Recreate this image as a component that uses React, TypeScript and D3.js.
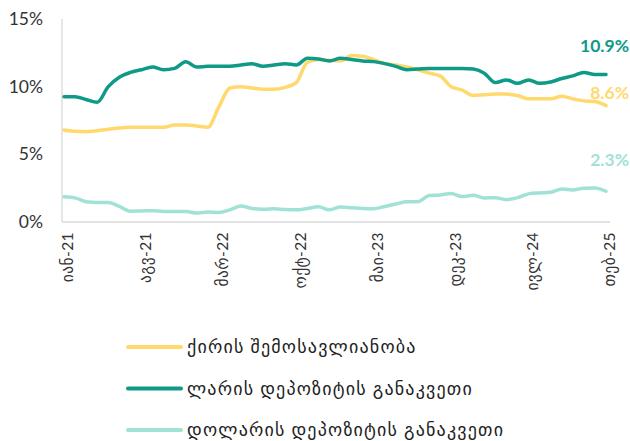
import { line, curveMonotoneX, scaleLinear, scalePoint } from "d3";

const months = [
  "2021-01", "2021-02", "2021-03", "2021-04", "2021-05", "2021-06", "2021-07", "2021-08", "2021-09", "2021-10", "2021-11", "2021-12",
  "2022-01", "2022-02", "2022-03", "2022-04", "2022-05", "2022-06", "2022-07", "2022-08", "2022-09", "2022-10", "2022-11", "2022-12",
  "2023-01", "2023-02", "2023-03", "2023-04", "2023-05", "2023-06", "2023-07", "2023-08", "2023-09", "2023-10", "2023-11", "2023-12",
  "2024-01", "2024-02", "2024-03", "2024-04", "2024-05", "2024-06", "2024-07", "2024-08", "2024-09", "2024-10", "2024-11", "2024-12",
  "2025-01", "2025-02",
];

const tickMonths = ["2021-01", "2021-08", "2022-03", "2022-10", "2023-05", "2023-12", "2024-07", "2025-02"];
const tickLabels = ["იან-21", "აგვ-21", "მარ-22", "ოქტ-22", "მაი-23", "დეკ-23", "ივლ-24", "თებ-25"];

const yTicks = [0, 5, 10, 15];

// ქირის შემოსავლიანობა
const rentYield = [
  6.8, 6.7, 6.67, 6.75, 6.85, 6.95, 7.0, 7.0, 7.0, 7.0, 7.17, 7.17,
  7.1, 7.0, 8.5, 9.9, 10.0, 9.9, 9.8, 9.8, 9.95, 10.3, 11.8, 12.0,
  11.95, 11.9, 12.3, 12.25, 12.0, 11.7, 11.6, 11.45, 11.25, 11.0, 10.8, 10.0,
  9.75, 9.35, 9.4, 9.45, 9.45, 9.35, 9.1, 9.1, 9.1, 9.3, 9.1, 8.95,
  8.9, 8.6,
];

// ლარის დეპოზიტის განაკვეთი
const gelDeposit = [
  9.26, 9.25, 9.05, 8.85, 10.0, 10.7, 11.05, 11.25, 11.45, 11.25, 11.35, 11.85,
  11.45, 11.5, 11.5, 11.5, 11.6, 11.7, 11.5, 11.6, 11.7, 11.6, 12.1, 12.05,
  11.9, 12.1, 12.0, 11.9, 11.85, 11.7, 11.5, 11.25, 11.3, 11.35, 11.35, 11.35,
  11.35, 11.3, 11.0, 10.3, 10.5, 10.25, 10.5, 10.25, 10.35, 10.6, 10.8, 11.05,
  10.9, 10.9,
];

// დოლარის დეპოზიტის განაკვეთი
const usdDeposit = [
  1.87, 1.78, 1.5, 1.45, 1.45, 1.15, 0.8, 0.82, 0.84, 0.78, 0.78, 0.78,
  0.66, 0.74, 0.7, 0.9, 1.18, 1.0, 0.95, 0.98, 0.92, 0.9, 1.0, 1.13,
  0.9, 1.1, 1.05, 1.0, 0.98, 1.15, 1.33, 1.5, 1.5, 1.95, 2.0, 2.1,
  1.88, 1.97, 1.78, 1.8, 1.65, 1.8, 2.08, 2.15, 2.2, 2.44, 2.37, 2.5,
  2.52, 2.27,
];

const seriesNames = ["ქირის შემოსავლიანობა", "ლარის დეპოზიტის განაკვეთი", "დოლარის დეპოზიტის განაკვეთი"];
const seriesValues = [rentYield, gelDeposit, usdDeposit];
const endLabels = ["8.6%", "10.9%", "2.3%"];
const colors = ["#FFD96E", "#0E9A86", "#A0E3D6"];

const W = 630;
const H = 441;
const font = "Lato, 'DejaVu Sans', sans-serif";

const App = () => {
  const x = scalePoint<string>().domain(months).range([64, 606]);
  const y = scaleLinear().domain([0, 15]).range([222, 19]);

  const path = line<number>()
    .x((_, i) => x(months[i]) as number)
    .y((d) => y(d))
    .curve(curveMonotoneX);

  const endY = [y(rentYield[49]) - 13, y(gelDeposit[49]) - 29, y(usdDeposit[49]) - 31];

  return (
    <svg
      width={W}
      height={H}
      style={{ position: "absolute", left: 0, top: 0, background: "#fff" }}
      fontFamily={font}
    >
      {/* axes */}
      <line x1={62} x2={62} y1={19} y2={222} stroke="#d9d9d9" strokeWidth={1.3} />
      <line x1={62} x2={610} y1={222} y2={222} stroke="#d9d9d9" strokeWidth={1.3} />

      {yTicks.map((t) => (
        <text key={t} x={43} y={y(t)} dy="0.35em" textAnchor="end" fontSize={17.5} fill="#333">
          {t}%
        </text>
      ))}

      {tickMonths.map((m, i) => (
        <text
          key={m}
          transform={`translate(${(x(m) as number) + 4},232) rotate(-90)`}
          textAnchor="end"
          dy="0.35em"
          fontSize={15.5}
          letterSpacing={0.4}
          fill="#333"
        >
          {tickLabels[i]}
        </text>
      ))}

      {seriesValues.map((vals, i) => (
        <path key={i} d={path(vals) ?? ""} fill="none" stroke={colors[i]} strokeWidth={3.5} strokeLinejoin="round" strokeLinecap="round" />
      ))}

      {endLabels.map((l, i) => (
        <text key={l} x={629} y={endY[i]} dy="0.35em" textAnchor="end" fontSize={17.5} fontWeight={700} fill={colors[i]}>
          {l}
        </text>
      ))}

      {/* legend */}
      {seriesNames.map((n, i) => (
        <g key={n} transform={`translate(128,${347 + i * 41.5})`}>
          <line x1={0} x2={53} y1={0} y2={0} stroke={colors[i]} strokeWidth={4} strokeLinecap="round" />
          <text x={59} y={0} dy="0.35em" fontSize={18} letterSpacing={1.2} fill="#222">
            {n}
          </text>
        </g>
      ))}
    </svg>
  );
};

export default App;
